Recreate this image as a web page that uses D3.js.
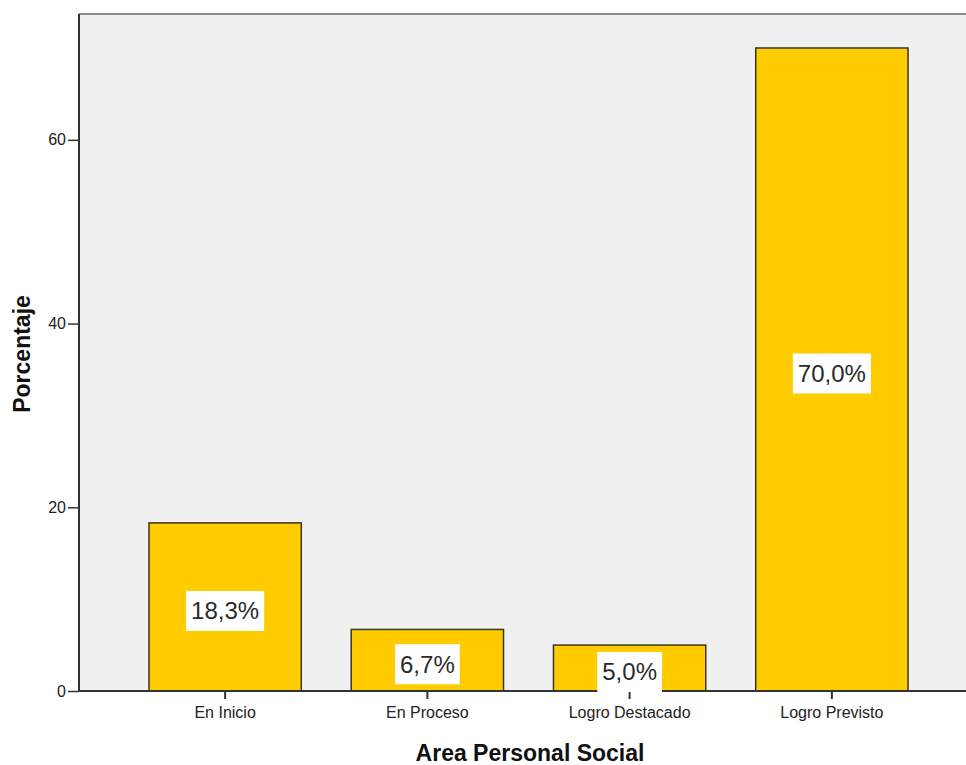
<!DOCTYPE html>
<html>
<head>
<meta charset="utf-8">
<script src="https://cdn.jsdelivr.net/npm/d3@7"></script>
<style>
  html, body { margin: 0; padding: 0; background: #ffffff; }
  svg { display: block; font-family: "Liberation Sans", Arial, sans-serif; }
</style>
</head>
<body>
<svg id="chart" width="966" height="765"></svg>
<script>
const categories = ["En Inicio", "En Proceso", "Logro Destacado", "Logro Previsto"];
const values = [18.3, 6.7, 5.0, 70.0];
const valueLabels = ["18,3%", "6,7%", "5,0%", "70,0%"];
const yTicks = [0, 20, 40, 60];
const xTitle = "Area Personal Social";
const yTitle = "Porcentaje";

const svg = d3.select("#chart");
const mLeft = 79, mTop = 14, mBottom = 691, mRight = 978;

const y = d3.scaleLinear().domain([0, 73.7]).range([mBottom, mTop]);
const x = d3.scaleBand().domain(categories).range([mLeft, mRight])
  .paddingInner(0.247).paddingOuter(0.346);

// plot background
svg.append("rect").attr("x", mLeft).attr("y", mTop)
  .attr("width", 966 - mLeft).attr("height", mBottom - mTop)
  .attr("fill", "#f0f0f0");
// top border
svg.append("line").attr("x1", mLeft).attr("x2", 966).attr("y1", mTop).attr("y2", mTop)
  .attr("stroke", "#8a8a8a").attr("stroke-width", 2);

// bars
svg.selectAll("rect.bar").data(values).enter().append("rect")
  .attr("class", "bar")
  .attr("x", (d, i) => x(categories[i]))
  .attr("y", d => y(d))
  .attr("width", x.bandwidth())
  .attr("height", d => y(0) - y(d))
  .attr("fill", "#ffcc00")
  .attr("stroke", "#3d3523")
  .attr("stroke-width", 1.5);

// y axis
const yAxis = d3.axisLeft(y).tickValues(yTicks).tickSize(11).tickPadding(2).tickFormat(d3.format("d"));
const gy = svg.append("g").attr("transform", `translate(${mLeft},0)`).call(yAxis);
gy.select(".domain").remove();
gy.selectAll(".tick line").attr("stroke", "#333").attr("stroke-width", 1.5);
gy.selectAll(".tick text").attr("font-size", 16).attr("fill", "#222")
  .attr("font-family", "'Liberation Sans', Arial, sans-serif");
svg.append("line").attr("x1", mLeft).attr("x2", mLeft).attr("y1", mTop).attr("y2", mBottom)
  .attr("stroke", "#333").attr("stroke-width", 2);

// x axis
const xAxis = d3.axisBottom(x).tickSize(8).tickPadding(8);
const gx = svg.append("g").attr("transform", `translate(0,${mBottom})`).call(xAxis);
gx.select(".domain").remove();
gx.selectAll(".tick line").attr("stroke", "#333").attr("stroke-width", 2);
gx.selectAll(".tick text").attr("font-size", 16).attr("fill", "#222")
  .attr("font-family", "'Liberation Sans', Arial, sans-serif");
svg.append("line").attr("x1", mLeft).attr("x2", 966).attr("y1", mBottom).attr("y2", mBottom)
  .attr("stroke", "#333").attr("stroke-width", 2);

// value labels
values.forEach((v, i) => {
  const cx = x(categories[i]) + x.bandwidth() / 2;
  const cy = (y(v) + y(0)) / 2 + 4;
  const g = svg.append("g");
  const box = g.append("rect").attr("fill", "#ffffff");
  const t = g.append("text").attr("x", cx).attr("y", cy).attr("dy", "0.35em")
    .attr("text-anchor", "middle").attr("font-size", 24).attr("fill", "#2a2a2a")
    .text(valueLabels[i]);
  const w = t.node().getComputedTextLength() + 10;
  box.attr("x", cx - w / 2).attr("y", cy - 20).attr("width", w).attr("height", 40);
});

// axis titles
svg.append("text").attr("x", 530).attr("y", 761).attr("text-anchor", "middle")
  .attr("font-size", 23).attr("font-weight", "bold").attr("fill", "#111")
  .text(xTitle);
svg.append("text").attr("transform", "translate(30,354) rotate(-90)")
  .attr("text-anchor", "middle")
  .attr("font-size", 23).attr("font-weight", "bold").attr("fill", "#111")
  .text(yTitle);
</script>
</body>
</html>
